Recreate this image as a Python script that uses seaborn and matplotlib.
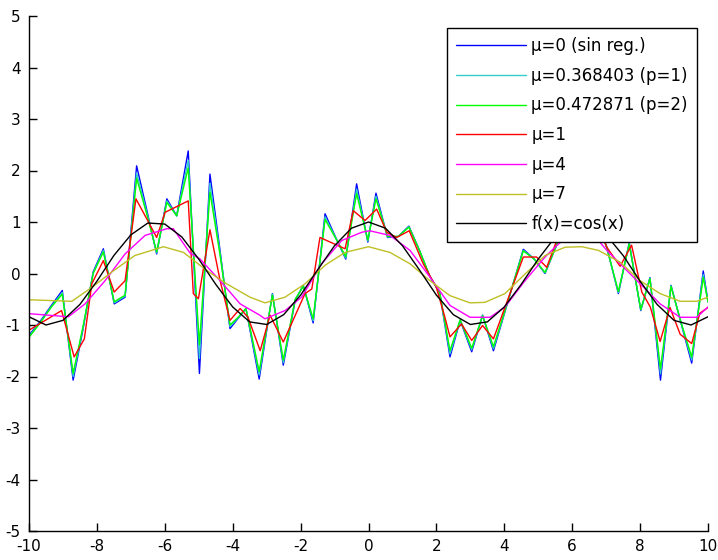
import numpy as np
import pandas as pd
import matplotlib
matplotlib.use("Agg")
import matplotlib.pyplot as plt
import seaborn as sns

# ---- data ----
x_noisy = [-10.0, -9.66, -9.34, -9.02, -8.70, -8.40, -8.11, -7.81, -7.49, -7.17, -6.83, -6.53,
           -6.24, -5.94, -5.65, -5.31, -4.98, -4.67, -4.37, -4.08, -3.84, -3.61, -3.22, -2.83,
           -2.51, -2.16, -1.92, -1.63, -1.28, -0.98, -0.67, -0.35, -0.02, 0.22, 0.56, 0.88,
           1.19, 1.50, 1.80, 2.10, 2.40, 2.70, 3.04, 3.36, 3.68, 3.98, 4.27, 4.56, 4.88, 5.20,
           5.54, 5.85, 6.15, 6.45, 6.75, 7.02, 7.36, 7.68, 8.02, 8.29, 8.60, 8.91, 9.22, 9.52,
           9.86, 10.0]
y_mu0 = [-1.20, -0.92, -0.62, -0.33, -2.07, -1.05, 0.03, 0.48, -0.59, -0.46, 2.09, 1.23,
         0.38, 1.45, 1.12, 2.38, -1.94, 1.93, 0.43, -1.07, -0.87, -0.68, -2.05, -0.39,
         -1.78, -0.52, -0.23, -0.96, 1.16, 0.72, 0.28, 1.74, 0.61, 1.56, 0.70, 0.72,
         0.92, 0.45, -0.05, -0.38, -1.62, -0.91, -1.52, -0.81, -1.50, -0.83, -0.18, 0.47, 0.28, 0.00,
         0.55, 1.30, 0.90, 1.60, 1.00, 0.51, -0.39, 0.60, -0.72, -0.08, -2.07, -0.23, -1.00, -1.74,
         0.05, -0.55]
y_p1 = [-1.22, -0.94, -0.64, -0.37, -2.00, -1.02, 0.01, 0.45, -0.57, -0.44, 1.95, 1.19,
        0.40, 1.41, 1.12, 2.20, -1.65, 1.75, 0.39, -1.03, -0.86, -0.68, -1.97, -0.40,
        -1.73, -0.51, -0.24, -0.92, 1.10, 0.71, 0.30, 1.64, 0.63, 1.50, 0.71, 0.72,
        0.91, 0.45, -0.05, -0.38, -1.56, -0.90, -1.48, -0.81, -1.46, -0.82, -0.18, 0.45, 0.28, 0.01,
        0.55, 1.28, 0.90, 1.55, 1.00, 0.50, -0.37, 0.58, -0.71, -0.09, -1.95, -0.24, -0.99, -1.68,
        -0.02, -0.55]
y_p2 = [-1.24, -0.95, -0.65, -0.40, -1.94, -1.00, 0.00, 0.42, -0.55, -0.42, 1.85, 1.15,
        0.42, 1.38, 1.12, 2.05, -1.38, 1.58, 0.35, -1.00, -0.85, -0.68, -1.90, -0.42,
        -1.68, -0.50, -0.25, -0.88, 1.05, 0.70, 0.33, 1.55, 0.65, 1.45, 0.72, 0.72,
        0.90, 0.45, -0.04, -0.38, -1.50, -0.90, -1.45, -0.82, -1.42, -0.80, -0.18, 0.44, 0.28, 0.02,
        0.55, 1.25, 0.90, 1.50, 1.00, 0.50, -0.35, 0.57, -0.70, -0.10, -1.85, -0.25, -0.98, -1.62,
        -0.08, -0.55]

x_mu1 = [-10.0, -9.04, -8.67, -8.37, -8.15, -7.81, -7.49, -7.17, -6.85, -6.53, -6.24, -5.99,
         -5.80, -5.31, -5.16, -5.01, -4.67, -4.37, -4.08, -3.78, -3.55, -3.19, -2.90, -2.51,
         -1.87, -1.67, -1.43, -1.23, -0.69, -0.45, -0.10, 0.24, 0.54, 0.83, 1.20, 1.61, 2.00,
         2.25, 2.40, 2.74, 3.04, 3.36, 3.68, 4.56, 4.95, 5.25, 5.55, 5.90, 6.30, 6.70, 7.02,
         7.41, 7.75, 8.05, 8.30, 8.59, 8.88, 9.18, 9.52, 9.76, 10.0]
y_mu1 = [-1.10, -0.72, -1.62, -1.27, -0.20, 0.25, -0.36, -0.14, 1.45, 1.06, 0.70, 1.19,
         1.25, 1.41, -0.39, -0.49, 0.85, -0.14, -0.91, -0.68, -0.85, -1.50, -0.81, -1.33,
         -0.39, -0.30, 0.70, 0.64, 0.48, 1.22, 1.03, 1.25, 0.80, 0.70, 0.83, 0.19, -0.27,
         -0.85, -1.23, -0.98, -1.30, -1.01, -1.27, 0.32, 0.32, 0.12, 0.65, 1.00, 0.90, 1.00, 0.51,
         0.14, 0.55, -0.36, -0.65, -1.32, -0.66, -1.18, -1.36, -0.77, -0.66]

x_mu4 = [-10.0, -8.84, -8.35, -7.76, -7.17, -6.58, -5.94, -5.75, -5.26, -4.96, -4.37, -3.78,
         -3.20, -3.05, -2.46, -1.97, -1.38, -0.79, -0.20, 0.03, 0.63, 1.22, 1.81, 2.40, 2.99,
         3.58, 4.02, 4.61, 5.20, 5.54, 6.00, 6.50, 7.02, 7.41, 8.00, 8.59, 9.18, 9.67, 10.0]
y_mu4 = [-0.78, -0.84, -0.59, -0.14, 0.38, 0.74, 0.87, 0.87, 0.40, 0.28, -0.14, -0.59,
         -0.81, -0.88, -0.72, -0.46, 0.19, 0.64, 0.80, 0.83, 0.74, 0.45, -0.07, -0.62, -0.85,
         -0.85, -0.65, -0.14, 0.32, 0.54, 0.80, 0.85, 0.45, 0.19, -0.20, -0.59, -0.85, -0.85, -0.65]

x_mu7 = [-10.0, -8.74, -8.15, -7.56, -6.88, -6.58, -6.04, -5.45, -4.77, -4.18, -3.49, -3.05,
         -2.46, -1.87, -1.28, -0.69, 0.00, 0.63, 1.22, 1.81, 2.40, 2.99, 3.43, 4.02, 4.61,
         5.20, 5.79, 6.28, 6.77, 7.41, 8.00, 8.59, 9.18, 9.67, 10.0]
y_mu7 = [-0.51, -0.54, -0.27, 0.03, 0.35, 0.41, 0.52, 0.41, 0.06, -0.20, -0.46, -0.57,
         -0.46, -0.20, 0.16, 0.41, 0.52, 0.41, 0.19, -0.14, -0.43, -0.57, -0.56, -0.39, -0.01,
         0.35, 0.51, 0.52, 0.45, 0.22, -0.14, -0.39, -0.54, -0.54, -0.46]

x_true = [-10.0, -9.5, -9.0, -8.5, -8.0, -7.5, -7.0, -6.5, -6.0, -5.5, -5.0, -4.5, -4.0, -3.5,
          -3.0, -2.5, -2.0, -1.5, -1.0, -0.5, 0.0, 0.5, 1.0, 1.5, 2.0, 2.5, 3.0, 3.5, 4.0, 4.5,
          5.0, 5.5, 6.0, 6.5, 7.0, 7.5, 8.0, 8.5, 9.0, 9.5, 10.0]
y_true = [-0.84, -1.00, -0.91, -0.60, -0.15, 0.35, 0.75, 0.98, 0.96, 0.71, 0.28, -0.21, -0.65,
          -0.94, -0.99, -0.80, -0.42, 0.07, 0.54, 0.88, 1.00, 0.88, 0.54, 0.07, -0.42, -0.80,
          -0.99, -0.94, -0.65, -0.21, 0.28, 0.71, 0.96, 0.98, 0.75, 0.35, -0.15, -0.60, -0.91,
          -1.00, -0.84]

labels = ["\u03bc=0 (sin reg.)", "\u03bc=0.368403 (p=1)", "\u03bc=0.472871 (p=2)",
          "\u03bc=1", "\u03bc=4", "\u03bc=7", "f(x)=cos(x)"]
colors = ["#0000ff", "#33cccc", "#00ff00", "#ff0000", "#ff00ff", "#bfbf26", "#000000"]
x_ticks = [-10, -8, -6, -4, -2, 0, 2, 4, 6, 8, 10]
y_ticks = [-5, -4, -3, -2, -1, 0, 1, 2, 3, 4, 5]

series = [(x_noisy, y_mu0), (x_noisy, y_p1), (x_noisy, y_p2), (x_mu1, y_mu1),
          (x_mu4, y_mu4), (x_mu7, y_mu7), (x_true, y_true)]
frames = []
for lab, (xs, ys) in zip(labels, series):
    frames.append(pd.DataFrame({"x": xs, "y": ys, "series": lab}))
df = pd.concat(frames, ignore_index=True)

sns.set_style("ticks")
plt.rcParams['font.family'] = ['DejaVu Sans']
plt.rcParams['axes.unicode_minus'] = False
plt.rcParams['text.color'] = 'black'

fig = plt.figure(figsize=(7.18, 5.6), dpi=100)
ax = fig.add_axes([29 / 718, 29 / 560, 679 / 718, 515 / 560])

sns.lineplot(data=df, x="x", y="y", hue="series", hue_order=labels,
             palette=dict(zip(labels, colors)), estimator=None, sort=False,
             linewidth=1.0, ax=ax)

ax.set_xlim(-10, 10)
ax.set_ylim(-5, 5)
ax.set_xticks(x_ticks)
ax.set_yticks(y_ticks)
ax.set_xlabel("")
ax.set_ylabel("")
ax.tick_params(direction="in", length=6, width=1, labelsize=11, colors="black")
ax.tick_params(axis="x", pad=6)
ax.tick_params(axis="y", pad=6)
for s in ["top", "right"]:
    ax.spines[s].set_visible(False)
for s in ["left", "bottom"]:
    ax.spines[s].set_color("black")
    ax.spines[s].set_linewidth(1.0)

handles, labs = ax.get_legend_handles_labels()
leg = ax.legend(handles, labs, loc="upper right", bbox_to_anchor=(0.984, 0.977),
                frameon=True, fancybox=False, framealpha=1, edgecolor="black",
                fontsize=12, handlelength=4.2, handletextpad=0.3, labelspacing=0.7,
                borderpad=0.55, borderaxespad=0)
leg.get_frame().set_linewidth(1.0)
for t in leg.get_texts():
    t.set_color("black")

fig.savefig("out.png", dpi=100)
